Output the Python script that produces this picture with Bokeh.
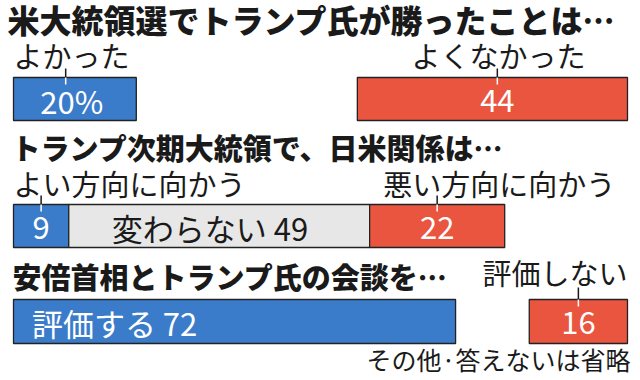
from bokeh.plotting import figure
from bokeh.models import Range1d, ColumnDataSource
from bokeh.core.properties import value
from bokeh.embed import file_html
from bokeh.resources import INLINE

# ---- data ----
titles = ["米大統領選でトランプ氏が勝ったことは…",
          "トランプ次期大統領で、日米関係は…",
          "安倍首相とトランプ氏の会談を…"]
q1_labels = ["よかった", "よくなかった"]
q1_values = [20, 44]
q2_labels = ["よい方向に向かう", "変わらない", "悪い方向に向かう"]
q2_values = [9, 49, 22]
q3_labels = ["評価する", "評価しない"]
q3_values = [72, 16]
note = "その他·答えないは省略"

# ---- styling / layout ----
BLUE, RED, GRAY = "#3b7cca", "#ea5540", "#e7e7e7"
INK = "#1a1a1a"
CJK = "Noto Sans CJK JP"
TITLE_FONT = "'Noto Sans CJK JP Black', 'Noto Sans CJK JP'"
NUM = "'Liberation Sans Narrow', 'Noto Sans CJK JP'"
W, H = 640, 380
PX = 6.14          # pixels per percent
LEFT = 13          # page x of 0 %

def px(p):
    return (p - LEFT) / PX

# row layout in page pixels
row_bar = [(77, 120), (204, 247), (299, 343)]
title_y = [18, 146.5, 275.5]
title_x = [7, 11, 12]
title_size = ["32px", "29px", "29px"]
label_y = [54.5, 182, 271.5]
lead_top = [68, 195, 287]

p = figure(width=W, height=H, output_backend="svg", toolbar_location=None,
           x_range=Range1d(px(0), px(W)),
           y_range=Range1d(H, 0),
           min_border=0, min_border_left=0, min_border_right=0,
           min_border_top=0, min_border_bottom=0)
p.axis.visible = False
p.grid.visible = False
p.outline_line_color = None
p.background_fill_color = "white"

bars = dict(left=[], right=[], top=[], bottom=[], color=[])
inner = dict(x=[], y=[], text=[], color=[], align=[])
outer = dict(x=[], y=[], text=[], align=[])
lead = dict(x=[], y0=[], y1=[], y2=[])

def add_bar(r, l, rt, color):
    t, b = row_bar[r]
    bars["left"].append(l); bars["right"].append(rt)
    bars["top"].append(t); bars["bottom"].append(b)
    bars["color"].append(color)

def add_inner(r, x, text, color, align="center"):
    t, b = row_bar[r]
    inner["x"].append(x); inner["y"].append((t + b) / 2 + 1)
    inner["text"].append(text); inner["color"].append(color)
    inner["align"].append(align)

def add_outer(r, x, text, align):
    outer["x"].append(x); outer["y"].append(label_y[r])
    outer["text"].append(text); outer["align"].append(align)

def add_lead(r, x):
    t, b = row_bar[r]
    lead["x"].append(x); lead["y0"].append(lead_top[r])
    lead["y1"].append(t); lead["y2"].append(t + 7)

# Q1: good (left) vs bad (right-anchored)
a, b = q1_values
add_bar(0, 0, a, BLUE); add_bar(0, 100 - b, 100, RED)
add_inner(0, a / 2 - 0.5, f"{a}%", "white")
add_inner(0, 100 - b / 2 + 0.8, f"{b}", "white")
add_outer(0, 0, q1_labels[0], "left")
add_outer(0, 100 - b / 2 + 1, q1_labels[1], "center")
add_lead(0, a / 2 - 1.5)
add_lead(0, 100 - b / 2 + 0.8)

# Q2: stacked
c0 = 0
cols = [BLUE, GRAY, RED]
for i, v in enumerate(q2_values):
    add_bar(1, c0, c0 + v, cols[i])
    mid = c0 + v / 2
    if i == 1:
        add_inner(1, mid - 1.5, f"{q2_labels[i]} {v}", INK)
    else:
        add_inner(1, mid, f"{v}", "white")
        add_lead(1, mid)
    c0 += v
add_outer(1, 0, q2_labels[0], "left")
add_outer(1, q2_values[0] + q2_values[1] + 2.2, q2_labels[2], "left")

# Q3: approve (left) vs disapprove (right-anchored)
a, b = q3_values
add_bar(2, 0, a, BLUE); add_bar(2, 100 - b, 100, RED)
add_inner(2, 3, f"{q3_labels[0]}  {a}", "white", "left")
add_inner(2, 100 - b / 2, f"{b}", "white")
add_outer(2, 100, q3_labels[1], "right")
add_lead(2, 100 - b / 2)

src_b = ColumnDataSource(bars)
p.quad(left="left", right="right", top="top", bottom="bottom", source=src_b,
       fill_color="color", line_color="#222222", line_width=1.3)

src_l = ColumnDataSource(lead)
p.segment(x0="x", y0="y0", x1="x", y1="y1", source=src_l,
          line_color=INK, line_width=1.5)
p.segment(x0="x", y0="y1", x1="x", y1="y2", source=src_l,
          line_color="white", line_width=1.5)

src_i = ColumnDataSource(inner)
p.text(x="x", y="y", text="text", text_color="color", text_align="align",
       text_baseline="middle", text_font=value(NUM), text_font_size="31px",
       source=src_i)

src_o = ColumnDataSource(outer)
p.text(x="x", y="y", text="text", text_color=INK, text_align="align",
       text_baseline="middle", text_font=value(CJK), text_font_size="29px",
       source=src_o)

for tx, ty, tt, ts in zip(title_x, title_y, titles, title_size):
    p.text(x=[px(tx)], y=[ty], text=[tt], text_color=INK,
           text_align="left", text_baseline="middle",
           text_font=value(TITLE_FONT), text_font_style="bold",
           text_font_size=ts)

p.text(x=[100.5], y=[358.5], text=[note], text_color=INK, text_align="right",
       text_baseline="middle", text_font=value(CJK), text_font_size="25px")

open("out.html", "w").write(file_html(p, INLINE))
